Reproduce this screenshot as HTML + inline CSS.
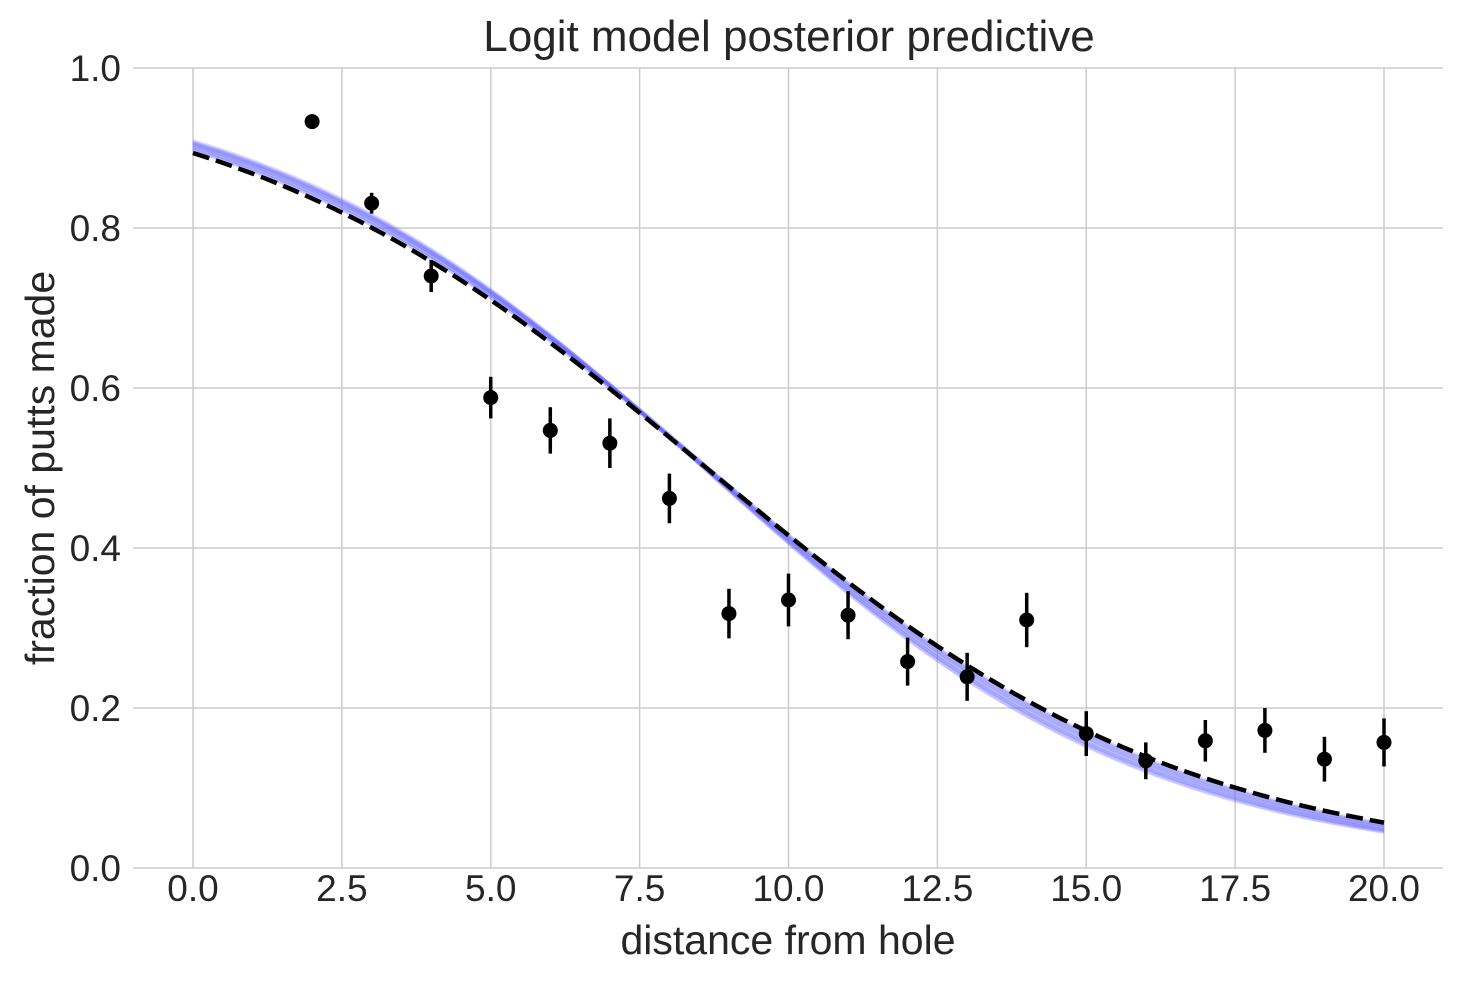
<!DOCTYPE html>
<html><head><meta charset="utf-8"><style>
body{margin:0;background:#fff}
svg{display:block;font-family:"Liberation Sans",sans-serif}
</style></head><body>
<svg id="chart" width="1463" height="983">
<text x="789" y="51" text-anchor="middle" font-size="44" fill="#262626">Logit model posterior predictive</text>
<text x="788" y="954" text-anchor="middle" font-size="41" fill="#262626">distance from hole</text>
<text transform="translate(54,468) rotate(-90)" text-anchor="middle" font-size="41" fill="#262626">fraction of putts made</text>
<g id="grid"></g><g id="ticks"></g><g id="post"></g><g id="mean"></g><g id="pts"></g>
</svg>
<script>
const xTicks=[0,2.5,5,7.5,10,12.5,15,17.5,20];
const yTicks=[0,0.2,0.4,0.6,0.8,1.0];
const distances=[2,3,4,5,6,7,8,9,10,11,12,13,14,15,16,17,18,19,20];
const fractions=[0.933,0.831,0.740,0.588,0.547,0.531,0.462,0.318,0.335,0.316,0.258,0.239,0.310,0.168,0.134,0.159,0.172,0.136,0.157];
const errors=[0.005,0.013,0.02,0.026,0.029,0.031,0.031,0.031,0.033,0.03,0.03,0.03,0.034,0.028,0.023,0.026,0.028,0.028,0.03];
const sampleIntercepts=[2.23,2.19,2.27,2.16,2.25,2.21,2.30,2.20,2.26,2.17,2.28,2.24];
const sampleSlopes=[-0.258,-0.253,-0.264,-0.250,-0.262,-0.257,-0.268,-0.255,-0.263,-0.252,-0.266,-0.260];
const meanIntercept=2.13, meanSlope=-0.247;
const X=v=>193+v*(1384-193)/20, Y=v=>868-v*800;
const NS="http://www.w3.org/2000/svg";
function mk(t,a,p){const e=document.createElementNS(NS,t);for(const k in a)e.setAttribute(k,a[k]);p.appendChild(e);return e;}
const g=document.getElementById('grid'),tk=document.getElementById('ticks');
xTicks.forEach(v=>{const l=mk('line',{x1:X(v),x2:X(v),y1:68,y2:868,stroke:'#cccccc','stroke-width':1.5},g);


const t=mk('text',{x:X(v),y:901,'text-anchor':'middle','font-size':37,fill:'#262626'},tk);t.textContent=v.toFixed(1);

});
yTicks.forEach(v=>{const l=mk('line',{x1:133,x2:1443,y1:Y(v),y2:Y(v),stroke:'#cccccc','stroke-width':1.5},g);


const t=mk('text',{x:121,y:Y(v)+13,'text-anchor':'end','font-size':37,fill:'#262626'},tk);t.textContent=v.toFixed(1);

});
function curve(a,b){let d='';for(let i=0;i<=100;i++){const x=i*0.2,p=1/(1+Math.exp(-(a+b*x)));d+=(i?'L':'M')+X(x).toFixed(1)+','+Y(p).toFixed(1);}return d;}
const post=document.getElementById('post');
sampleIntercepts.forEach((a,i)=>{const p=mk('path',{d:curve(a,sampleSlopes[i]),fill:'none',stroke:'#6666ff','stroke-width':3.5,opacity:0.22},post);

});
const m=mk('path',{d:curve(meanIntercept,meanSlope),fill:'none',stroke:'#000','stroke-width':4.5,'stroke-dasharray':'17,7'},document.getElementById('mean'));


const pts=document.getElementById('pts');
distances.forEach((d,i)=>{const l=mk('line',{x1:X(d),x2:X(d),y1:Y(fractions[i]+errors[i]),y2:Y(fractions[i]-errors[i]),stroke:'#000','stroke-width':3.5},pts);


const c=mk('circle',{cx:X(d),cy:Y(fractions[i]),r:7.5,fill:'#000'},pts);

});
</script>
</body></html>
